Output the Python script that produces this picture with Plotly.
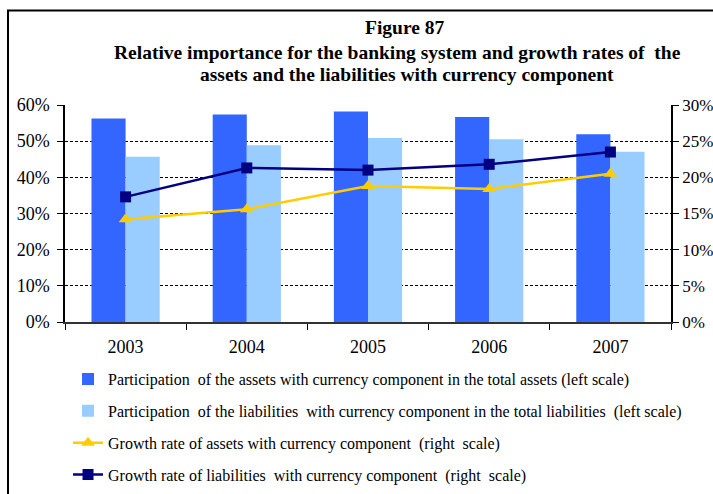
import plotly.graph_objects as go

years = ["2003", "2004", "2005", "2006", "2007"]
assets_share = [56.3, 57.4, 58.2, 56.7, 51.9]
liab_share = [45.7, 48.9, 50.9, 50.5, 47.1]
assets_growth = [14.2, 15.6, 18.8, 18.4, 20.5]
liab_growth = [17.3, 21.3, 21.0, 21.8, 23.5]

left_ticks = [0, 10, 20, 30, 40, 50, 60]
right_ticks = [0, 5, 10, 15, 20, 25, 30]

names = [
    "Participation  of the assets with currency component in the total assets (left scale)",
    "Participation  of the liabilities  with currency component in the total liabilities  (left scale)",
    "Growth rate of assets with currency component  (right  scale)",
    "Growth rate of liabilities  with currency component  (right  scale)",
]
title_lines = [
    "Figure 87",
    "Relative importance for the banking system and growth rates of  the",
    "assets and the liabilities with currency component",
]

font = "Liberation Serif"

fig = go.Figure()
fig.add_trace(go.Bar(x=years, y=assets_share, name=names[0], marker_color="#3366FF",
                     marker_line_width=0, legendgroup="a"))
fig.add_trace(go.Bar(x=years, y=liab_share, name=names[1], marker_color="#99CCFF",
                     marker_line_width=0, legendgroup="b"))
fig.add_trace(go.Scatter(x=years, y=assets_growth, name=names[2], yaxis="y2",
                         mode="lines+markers", line=dict(color="#FFCC00", width=2.5),
                         marker=dict(symbol="triangle-up", size=12, color="#FFCC00"),
                         legendgroup="c"))
fig.add_trace(go.Scatter(x=years, y=liab_growth, name=names[3], yaxis="y2",
                         mode="lines+markers", line=dict(color="#000080", width=2.5),
                         marker=dict(symbol="square", size=11, color="#000080"),
                         legendgroup="d"))

annotations = []
for t, yy, xc in zip(title_lines, [27, 52, 74], [405, 397, 407]):
    annotations.append(dict(text="<b>" + t + "</b>", xref="paper", yref="paper",
                            x=(xc - 65) / 606, y=1 + (105 - yy) / 218,
                            xanchor="center", yanchor="middle", showarrow=False,
                            font=dict(family=font, size=19.5, color="black")))

fig.update_layout(
    width=713, height=494,
    margin=dict(l=65, r=42, t=105, b=172, autoexpand=False),
    paper_bgcolor="white", plot_bgcolor="white",
    font=dict(family=font, color="black", size=16),
    annotations=annotations,
    barmode="group", bargap=0.437, bargroupgap=0,
    xaxis=dict(type="category", tickson="boundaries", ticks="outside", ticklen=6,
               tickcolor="black", showline=True, linecolor="#333333", linewidth=1.5,
               showgrid=False, tickfont=dict(family=font, size=18), ticklabelstandoff=8),
    yaxis=dict(range=[0, 60], tickvals=left_ticks, ticktext=[f"{v}%" for v in left_ticks],
               showline=True, linecolor="black", linewidth=1.5, ticks="outside", ticklen=6,
               tickcolor="black", showgrid=True, gridcolor="black", griddash="3px,2px",
               gridwidth=1, zeroline=False, tickfont=dict(family=font, size=18),
               ticklabelstandoff=4),
    yaxis2=dict(range=[0, 30], tickvals=right_ticks, ticktext=[f"{v}%" for v in right_ticks],
                overlaying="y", side="right", showline=True, linecolor="black", linewidth=1.5,
                ticks="outside", ticklen=6, tickcolor="black", showgrid=False,
                zeroline=False, tickfont=dict(family=font, size=17)),
    legend=dict(orientation="v", x=0.005, xanchor="left", y=-0.185, yanchor="top",
                font=dict(family=font, size=16), tracegroupgap=8,
                traceorder="grouped", bgcolor="rgba(0,0,0,0)", itemwidth=30),
    showlegend=True,
    shapes=[dict(type="rect", xref="paper", yref="paper", x0=-57 / 606, x1=1.2,
                 y0=-1.0, y1=1 + 95 / 218, line=dict(color="black", width=2),
                 fillcolor="rgba(0,0,0,0)", layer="below")],
)

fig.write_html("out.html", config={"displayModeBar": False},
               post_script="document.body.style.margin='0';")
